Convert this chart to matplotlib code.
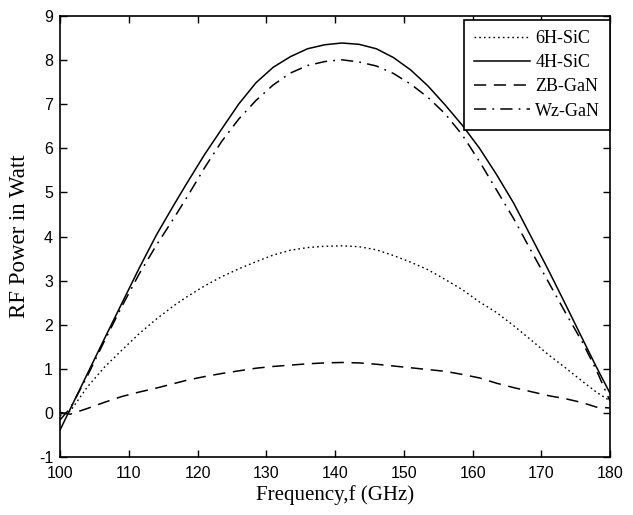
import matplotlib
matplotlib.use("Agg")
import matplotlib.pyplot as plt

plt.rcParams["axes.unicode_minus"] = False

# 数据
freq = [100, 101.5, 104, 106.5, 109, 111.5, 114, 116.5, 118.5, 121, 123.5, 126,
        128.5, 131, 133.5, 136, 138.5, 141, 143.5, 146, 148.5, 151, 153.5, 156,
        158.5, 161, 163.5, 166, 168.5, 171, 173.5, 176, 178, 180]
p_6h = [-0.05, 0.05, 0.6, 1.05, 1.43, 1.8, 2.13, 2.43, 2.64, 2.88, 3.09, 3.27,
        3.43, 3.58, 3.69, 3.75, 3.78, 3.79, 3.77, 3.7, 3.57, 3.42, 3.25, 3.03,
        2.8, 2.52, 2.28, 1.98, 1.66, 1.33, 1.03, 0.72, 0.48, 0.28]
p_4h = [-0.38, 0.1, 0.9, 1.7, 2.49, 3.28, 4.03, 4.7, 5.22, 5.85, 6.43, 7.0,
        7.48, 7.83, 8.07, 8.25, 8.34, 8.38, 8.35, 8.25, 8.05, 7.77, 7.41, 6.98,
        6.52, 6.0, 5.4, 4.75, 4.0, 3.25, 2.47, 1.68, 1.05, 0.45]
p_zb = [0.02, -0.02, 0.11, 0.25, 0.38, 0.48, 0.57, 0.67, 0.75, 0.83, 0.9, 0.96,
        1.02, 1.06, 1.09, 1.12, 1.14, 1.15, 1.14, 1.11, 1.07, 1.03, 0.99, 0.95,
        0.88, 0.8, 0.68, 0.58, 0.49, 0.4, 0.33, 0.24, 0.14, 0.12]
p_wz = [-0.15, 0.12, 0.85, 1.65, 2.42, 3.15, 3.8, 4.4, 4.9, 5.55, 6.15, 6.66,
        7.08, 7.43, 7.7, 7.87, 7.96, 8.0, 7.95, 7.86, 7.69, 7.45, 7.15, 6.78,
        6.3, 5.7, 5.05, 4.4, 3.68, 2.98, 2.28, 1.6, 0.98, 0.27]

serif = "Liberation Serif"
sans = "Liberation Sans"

fig = plt.figure(figsize=(6.33, 5.15), dpi=100)
ax = fig.add_axes([0.0948, 0.1117, 0.869, 0.858])

ax.plot(freq, p_6h, color="black", linewidth=1.0, linestyle=(0, (1.2, 2.2)), label="6H-SiC")
ax.plot(freq, p_4h, color="black", linewidth=1.1, linestyle="-", label="4H-SiC")
ax.plot(freq, p_zb, color="black", linewidth=1.1, linestyle=(0, (8, 5)), label="ZB-GaN")
ax.plot(freq, p_wz, color="black", linewidth=1.1, linestyle=(0, (8, 4, 1.2, 4)), label="Wz-GaN")

ax.set_xlim(100, 180)
ax.set_ylim(-1, 9)
ax.set_xticks(range(100, 181, 10))
ax.set_yticks(range(-1, 10))
ax.tick_params(direction="in", top=True, right=True, length=5, width=1,
               labelsize=11.5)
ax.tick_params(axis="x", pad=6)
ax.tick_params(axis="y", pad=5)
for lab in ax.get_xticklabels() + ax.get_yticklabels():
    lab.set_family(sans)
for s in ax.spines.values():
    s.set_linewidth(1.2)

ax.set_xlabel("Frequency,f (GHz)", fontsize=15, family=serif, labelpad=3)
ax.set_ylabel("RF Power in Watt", fontsize=16.5, family=serif, labelpad=6)

leg = ax.legend(loc="upper right", bbox_to_anchor=(1.0, 0.99), borderaxespad=0,
                prop={"family": serif, "size": 13}, handlelength=3.1,
                handletextpad=0.3, labelspacing=0.4, fancybox=False,
                framealpha=1, edgecolor="black", borderpad=0.55)
leg.get_frame().set_linewidth(1.2)

fig.savefig("out.png", dpi=100)
